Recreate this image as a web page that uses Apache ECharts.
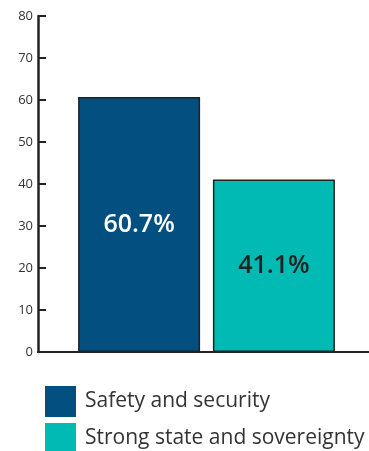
<!DOCTYPE html>
<html>
<head>
<meta charset="utf-8">
<script src="https://cdn.jsdelivr.net/npm/echarts@6/dist/echarts.min.js"></script>
<style>
  html, body { margin: 0; padding: 0; background: #fff; }
  #chart { width: 369px; height: 451px; }
</style>
</head>
<body>
<div id="chart"></div>
<script>
// Share of respondents naming each priority (%)
const categories = ['Priority'];
const seriesNames = ['Safety and security', 'Strong state and sovereignty'];
const safetyValues = [60.7];
const sovereigntyValues = [41.1];
const yTicks = { min: 0, max: 80, step: 10 };

const FONT = '"Open Sans", "Noto Sans", sans-serif';
const INK = '#333333';
const COLORS = ['#034f80', '#00bab3'];

const chart = echarts.init(document.getElementById('chart'), null, { renderer: 'canvas' });

// one legend block per series, stacked vertically below the plot
const legendFor = (name, top) => ({
  left: 45,
  top: top,
  padding: 0,
  itemWidth: 31,
  itemHeight: 31,
  icon: 'rect',
  itemStyle: { borderWidth: 0 },
  textStyle: { fontFamily: FONT, fontSize: 21, color: INK, padding: [0, 0, 0, 4] },
  data: [name]
});

const barLabel = color => ({
  show: true,
  position: 'inside',
  formatter: p => p.value.toFixed(1) + '%',
  color: color,
  fontSize: 25,
  fontWeight: 600,
  fontFamily: FONT
});

chart.setOption({
  animation: false,
  textStyle: { fontFamily: FONT },
  grid: { left: 38, right: -6, top: 16, bottom: 99, containLabel: false, outerBoundsMode: 'none' },
  legend: [legendFor(seriesNames[0], 386), legendFor(seriesNames[1], 423)],
  xAxis: {
    type: 'category',
    data: categories,
    axisLine: { show: true, lineStyle: { color: '#222222', width: 2 } },
    axisTick: { show: false },
    axisLabel: { show: false },
    splitLine: { show: false }
  },
  yAxis: {
    type: 'value',
    min: yTicks.min,
    max: yTicks.max,
    interval: yTicks.step,
    axisLine: { show: true, lineStyle: { color: '#222222', width: 2.5 } },
    axisTick: { show: true, inside: true, length: 8, lineStyle: { color: '#222222', width: 2 } },
    axisLabel: { color: INK, fontSize: 13, fontFamily: FONT, margin: 5 },
    splitLine: { show: false }
  },
  series: [
    {
      name: seriesNames[0],
      type: 'bar',
      data: safetyValues,
      barWidth: 122,
      barGap: '10.5%',
      itemStyle: { color: COLORS[0], borderColor: '#222222', borderWidth: 1.5 },
      label: barLabel('#ffffff')
    },
    {
      name: seriesNames[1],
      type: 'bar',
      data: sovereigntyValues,
      barWidth: 122,
      barGap: '10.5%',
      itemStyle: { color: COLORS[1], borderColor: '#222222', borderWidth: 1.5 },
      label: barLabel('#222222')
    }
  ]
});
</script>
</body>
</html>
